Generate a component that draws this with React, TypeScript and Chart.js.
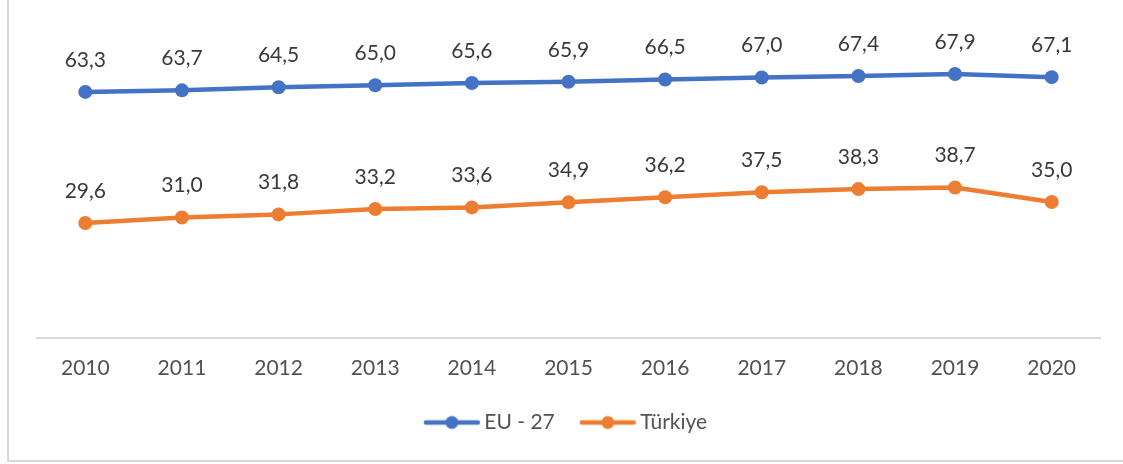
import React, { useEffect, useRef } from "react";
import { Chart, registerables } from "chart.js";

Chart.register(...registerables);

const years = ["2010", "2011", "2012", "2013", "2014", "2015", "2016", "2017", "2018", "2019", "2020"];
const euValues = [63.3, 63.7, 64.5, 65.0, 65.6, 65.9, 66.5, 67.0, 67.4, 67.9, 67.1];
const trValues = [29.6, 31.0, 31.8, 33.2, 33.6, 34.9, 36.2, 37.5, 38.3, 38.7, 35.0];
const seriesNames = ["EU - 27", "Türkiye"];
const seriesColors = ["#4472C4", "#ED7D31"];

const FONT = "Lato";
const W = 1123;
const H = 464;

function makeLegendMarker(color: string): HTMLCanvasElement {
  const c = document.createElement("canvas");
  c.width = 58;
  c.height = 16;
  const ctx = c.getContext("2d")!;
  ctx.strokeStyle = color;
  ctx.lineWidth = 4.5;
  ctx.lineCap = "round";
  ctx.beginPath();
  ctx.moveTo(3, 8);
  ctx.lineTo(55, 8);
  ctx.stroke();
  ctx.fillStyle = color;
  ctx.beginPath();
  ctx.arc(29, 8, 6.5, 0, Math.PI * 2);
  ctx.fill();
  return c;
}

const dataLabelPlugin = {
  id: "dataLabels",
  afterDatasetsDraw(chart: any) {
    const ctx = chart.ctx;
    ctx.save();
    ctx.font = `21px ${FONT}`;
    ctx.fillStyle = "#3a3a3a";
    ctx.textAlign = "center";
    ctx.textBaseline = "middle";
    chart.data.datasets.forEach((ds: any, di: number) => {
      const meta = chart.getDatasetMeta(di);
      meta.data.forEach((pt: any, i: number) => {
        const v = ds.data[i] as number;
        const label = v.toFixed(1).replace(".", ",");
        ctx.fillText(label, pt.x, pt.y - 32);
      });
    });
    ctx.restore();
  },
};

export default function App() {
  const ref = useRef<HTMLCanvasElement | null>(null);

  useEffect(() => {
    if (!ref.current) return;
    const markers = seriesColors.map((c) => makeLegendMarker(c));
    const chart = new Chart(ref.current, {
      type: "line",
      data: {
        labels: years,
        datasets: [euValues, trValues].map((vals, i) => ({
          label: seriesNames[i],
          data: vals,
          borderColor: seriesColors[i],
          backgroundColor: seriesColors[i],
          borderWidth: 4.5,
          pointRadius: 7,
          pointHoverRadius: 7,
          pointBorderWidth: 0,
          pointBackgroundColor: seriesColors[i],
          tension: 0,
          borderCapStyle: "round",
          borderJoinStyle: "round",
        })),
      },
      options: {
        responsive: false,
        animation: false,
        layout: { padding: { left: 37, right: 23, top: 27, bottom: 21 } },
        scales: {
          x: {
            offset: true,
            grid: { display: false, drawTicks: false },
            border: { display: true, color: "#d9d9d9", width: 2 },
            ticks: {
              color: "#525252",
              font: { family: FONT, size: 21 },
              padding: 18,
              maxRotation: 0,
            },
            afterFit: (scale: any) => {
              scale.height = 43;
            },
          },
          y: {
            display: false,
            min: 0,
            max: 80,
          },
        },
        plugins: {
          tooltip: { enabled: false },
          legend: {
            position: "bottom",
            labels: {
              usePointStyle: true,
              pointStyleWidth: 44,
              padding: 31,
              color: "#525252",
              font: { family: FONT, size: 21 },
              generateLabels: (ch: any) => {
                const items = (Chart.defaults.plugins.legend.labels as any).generateLabels(ch);
                return items.map((it: any, i: number) => ({ ...it, pointStyle: markers[i], lineWidth: 0 }));
              },
            },
          },
        },
      },
      plugins: [dataLabelPlugin],
    } as any);
    return () => chart.destroy();
  }, []);

  return (
    <div style={{ position: "absolute", left: 0, top: 0, width: W, height: H, overflow: "hidden", background: "#fff" }}>
      <div
        style={{
          position: "absolute",
          left: 7,
          top: -10,
          width: 1200,
          height: 472,
          border: "2px solid #d9d9d9",
          boxSizing: "border-box",
        }}
      />
      <canvas ref={ref} width={W} height={H} style={{ position: "absolute", left: 0, top: 0, width: W, height: H }} />
    </div>
  );
}
